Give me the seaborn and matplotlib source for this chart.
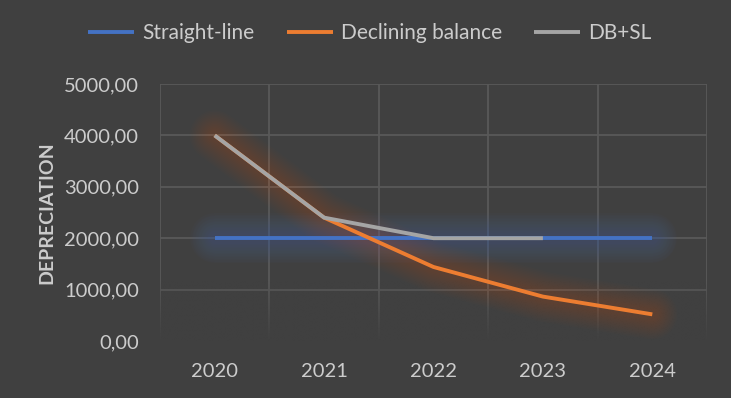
import numpy as np
import pandas as pd
import matplotlib
matplotlib.use("Agg")
import matplotlib.pyplot as plt
import seaborn as sns
from matplotlib.ticker import FuncFormatter, FixedLocator

years = ["2020", "2021", "2022", "2023", "2024"]
straight_line = [2000, 2000, 2000, 2000, 2000]
declining_balance = [4000, 2400, 1440, 864, 518.4]
db_sl = [4000, 2400, 2000, 2000, np.nan]
series_names = ["Straight-line", "Declining balance", "DB+SL"]
y_ticks = [0, 1000, 2000, 3000, 4000, 5000]
y_label = "DEPRECIATION"

colors = {"Straight-line": "#4472C4", "Declining balance": "#ED7D31", "DB+SL": "#A5A5A5"}
glow_alpha = {"Straight-line": 0.022, "Declining balance": 0.015, "DB+SL": 0.008}
BG = "#404040"
TXT = "#CCCCCC"
GRID = "#595959"

sns.set_theme(style="dark")
plt.rcParams["font.family"] = ["Lato", "DejaVu Sans"]

frames = []
for name, vals in zip(series_names, [straight_line, declining_balance, db_sl]):
    frames.append(pd.DataFrame({"year": years, "value": vals, "series": name}))
df = pd.concat(frames, ignore_index=True)
df["pos"] = df["year"].map({y: i for i, y in enumerate(years)})

fig = plt.figure(figsize=(7.31, 3.98), dpi=100, facecolor=BG)
ax = fig.add_axes([160 / 731, 57 / 398, 547 / 731, 257 / 398])
ax.set_facecolor(BG)

# soft glow
glow_widths = np.linspace(36, 8, 14)
for name in series_names:
    sub = df[df["series"] == name].dropna()
    for w in glow_widths:
        sns.lineplot(data=sub, x="pos", y="value", ax=ax, color=colors[name],
                     lw=w, alpha=glow_alpha[name], legend=False, zorder=2,
                     solid_capstyle="round", solid_joinstyle="round")

for name in series_names:
    sub = df[df["series"] == name].dropna()
    sns.lineplot(data=sub, x="pos", y="value", ax=ax, color=colors[name],
                 lw=2.8, label=name, zorder=3, solid_capstyle="butt",
                 solid_joinstyle="round")

ax.xaxis.set_major_locator(FixedLocator(range(len(years))))
ax.set_xticklabels(years)
ax.xaxis.set_minor_locator(FixedLocator(np.arange(-0.5, len(years), 1.0)))
ax.set_yticks(y_ticks)
ax.yaxis.set_major_formatter(FuncFormatter(lambda v, p: f"{v:.2f}".replace(".", ",")))
ax.grid(False)
ax.grid(which="minor", axis="x", color=GRID, lw=1.3)
ax.grid(which="major", axis="y", color=GRID, lw=1.3)
ax.set_axisbelow(True)
ax.tick_params(axis="both", which="both", length=0, colors=TXT, labelsize=14.5)
ax.tick_params(axis="x", pad=16)
ax.tick_params(axis="y", pad=15)
for s in ax.spines.values():
    s.set_visible(False)

# fade the grid near the bottom
grad = np.zeros((256, 2, 4))
rgb = matplotlib.colors.to_rgb(BG)
grad[..., 0], grad[..., 1], grad[..., 2] = rgb
grad[..., 3] = np.linspace(1, 0, 256)[:, None]
ax.imshow(grad, extent=(-0.6, len(years) - 0.4, 0, 1150), origin="lower",
          aspect="auto", zorder=1.5, interpolation="bilinear")
ax.set_xlim(-0.5, len(years) - 0.5)
ax.set_ylim(0, 5000)

ax.set_xlabel("")
ax.set_ylabel(y_label, color=TXT, fontsize=14, fontweight="bold", labelpad=6)

ax.get_legend().remove()
handles, labels = ax.get_legend_handles_labels()
leg = fig.legend(handles, labels, loc="center", bbox_to_anchor=(370 / 731, 1 - 33 / 398),
                 ncol=3, frameon=False, fontsize=15, handlelength=2.2,
                 handletextpad=0.4, columnspacing=1.55, labelcolor=TXT)

fig.savefig("out.png", dpi=100, facecolor=BG)
